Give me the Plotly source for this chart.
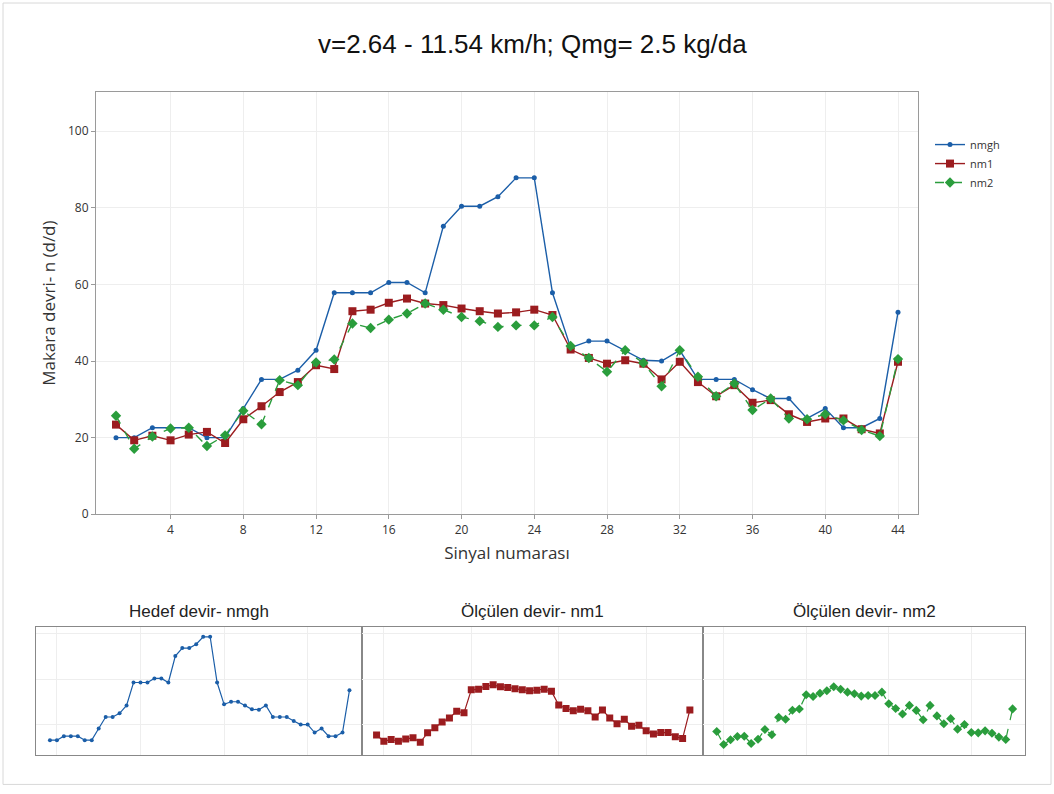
import plotly.graph_objects as go

signal = list(range(1, 45))
nmgh = [20.0, 20.0, 22.6, 22.6, 22.6, 20.0, 20.0, 27.6, 35.2, 35.2,
        37.6, 42.8, 57.8, 57.8, 57.8, 60.5, 60.5, 57.8, 75.2, 80.4,
        80.4, 82.9, 87.8, 87.8, 57.8, 43.5, 45.2, 45.2, 42.8, 40.2,
        40.0, 42.8, 35.2, 35.2, 35.2, 32.5, 30.2, 30.2, 25.0, 27.6,
        22.6, 22.6, 25.0, 52.7]
nm1 = [23.4, 19.3, 20.5, 19.3, 20.8, 21.5, 18.6, 24.8, 28.2, 31.9,
       34.5, 38.9, 37.9, 53.0, 53.4, 55.2, 56.3, 55.0, 54.6, 53.7,
       53.0, 52.4, 52.7, 53.4, 52.0, 43.0, 40.8, 39.3, 40.2, 39.3,
       35.2, 39.8, 34.5, 30.8, 33.7, 29.1, 29.8, 26.1, 24.1, 25.0,
       25.0, 22.2, 21.1, 39.8]
nm2 = [25.7, 17.1, 20.3, 22.4, 22.6, 17.8, 20.6, 27.0, 23.5, 35.0,
       33.7, 39.6, 40.4, 49.8, 48.6, 50.8, 52.4, 55.0, 53.4, 51.5,
       50.4, 48.9, 49.3, 49.3, 51.5, 43.9, 40.8, 37.2, 42.8, 39.5,
       33.4, 42.8, 35.9, 30.8, 34.1, 27.2, 30.2, 25.0, 24.8, 26.1,
       24.5, 22.0, 20.4, 40.5]

title_text = "v=2.64 - 11.54 km/h; Qmg= 2.5 kg/da"
x_title = "Sinyal numarası"
y_title = "Makara devri- n (d/d)"
panel_titles = ["Hedef devir- nmgh", "Ölçülen devir- nm1", "Ölçülen devir- nm2"]
x_ticks = [4, 8, 12, 16, 20, 24, 28, 32, 36, 40, 44]
y_ticks = [0, 20, 40, 60, 80, 100]

BLUE = "#1b5ea8"
RED = "#9b1c1f"
GREEN = "#2a9d3c"

W, H = 1054, 794
VCORR = 1 / 0.9894


def px(x):
    return x / W


def py(y):
    return max(0.0, min(1.0, 1 - (y * VCORR) / H))


fig = go.Figure()

styles = [
    ("nmgh", nmgh, BLUE, "circle", 5, 4, "solid"),
    ("nm1", nm1, RED, "square", 8, 7, "solid"),
    ("nm2", nm2, GREEN, "diamond", 8, 7, "dash"),
]

for name, vals, col, sym, msize, small_size, dash in styles:
    fig.add_trace(go.Scatter(
        x=signal, y=vals, name=name, mode="lines+markers",
        line=dict(color=col, width=1.4, dash=dash),
        marker=dict(color=col, symbol=sym, size=msize),
        xaxis="x", yaxis="y"))

for i, (name, vals, col, sym, msize, small_size, dash) in enumerate(styles):
    fig.add_trace(go.Scatter(
        x=signal, y=vals, name=name, mode="lines+markers", showlegend=False,
        line=dict(color=col, width=1.2, dash=dash),
        marker=dict(color=col, symbol=sym, size=small_size),
        xaxis="x%d" % (i + 2), yaxis="y%d" % (i + 2)))

tick_font = dict(family="Open Sans, Noto Sans, sans-serif", size=12, color="#333333")
title_font = dict(family="Open Sans, sans-serif", size=17, color="#333333")
grid = "#eeeeee"
axis_line = "#9a9a9a"

layout = dict(
    width=W, height=H,
    margin=dict(l=0, r=0, t=0, b=0),
    paper_bgcolor="white", plot_bgcolor="white",
    font=dict(family="Liberation Sans, Arial, sans-serif", color="#222222"),
    showlegend=True,
    legend=dict(x=px(930), y=py(130), xanchor="left", yanchor="top",
                font=dict(family="Open Sans, sans-serif", size=11, color="#333333"),
                bgcolor="rgba(0,0,0,0)", tracegroupgap=0, itemwidth=30),
    xaxis=dict(domain=[px(96), px(918)], range=[-0.1, 45.1],
               tickvals=x_ticks, ticks="outside", ticklen=4, tickcolor=axis_line,
               showline=True, linecolor=axis_line, mirror=True, linewidth=1,
               showgrid=True, gridcolor=grid, zeroline=False,
               tickfont=tick_font,
               title=dict(text=x_title, font=title_font, standoff=10),
               anchor="y"),
    yaxis=dict(domain=[py(514), py(92)], range=[0, 110.2],
               tickvals=y_ticks, ticks="outside", ticklen=4, tickcolor=axis_line,
               showline=True, linecolor=axis_line, mirror=True, linewidth=1,
               showgrid=True, gridcolor=grid, zeroline=False,
               tickfont=tick_font,
               title=dict(text=y_title, font=title_font, standoff=8),
               anchor="x"),
)

panel_x = [(36, 362), (362, 703), (703, 1025)]
for i, (x0, x1) in enumerate(panel_x):
    k = i + 2
    layout["xaxis%d" % k] = dict(domain=[px(x0), px(x1)], range=[-1.0, 45.8],
                                 tickvals=[2, 14, 26, 38], showticklabels=False, ticks="",
                                 showline=True, linecolor="#888888", mirror=True,
                                 showgrid=True, gridcolor=grid, zeroline=False,
                                 anchor="y%d" % k)
    layout["yaxis%d" % k] = dict(domain=[py(755), py(627)], range=[10, 94],
                                 tickvals=[30, 60, 90], showticklabels=False, ticks="",
                                 showline=True, linecolor="#888888", mirror=True,
                                 showgrid=True, gridcolor=grid, zeroline=False,
                                 anchor="x%d" % k)

fig.update_layout(**layout)

annotations = [dict(text=title_text, x=px(532), y=py(44), xref="paper", yref="paper",
                    showarrow=False, xanchor="center", yanchor="middle",
                    font=dict(family="Liberation Sans, Arial, sans-serif", size=26, color="#111111"))]
for (x0, x1), t in zip(panel_x, panel_titles):
    annotations.append(dict(text=t, x=px((x0 + x1) / 2), y=py(611), xref="paper", yref="paper",
                            showarrow=False, xanchor="center", yanchor="middle",
                            font=dict(family="Liberation Sans, Arial, sans-serif", size=17, color="#222222")))
fig.update_layout(annotations=annotations)

fig.add_shape(type="rect", xref="paper", yref="paper", x0=px(3), x1=px(1051), y0=py(784), y1=py(3),
              line=dict(color="#d8d8d8", width=1), layer="below")

fig.write_html("out.html")
